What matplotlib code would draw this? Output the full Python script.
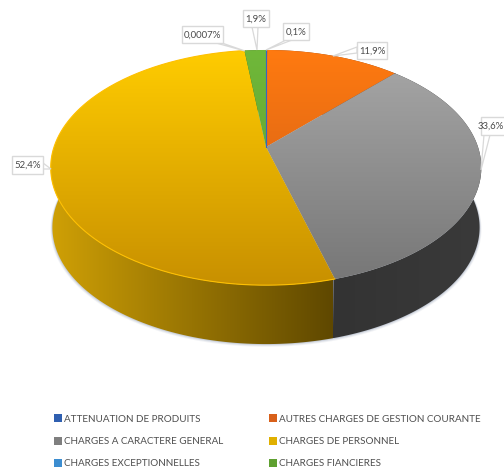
import numpy as np
import matplotlib
matplotlib.use('Agg')
import matplotlib.pyplot as plt
from matplotlib.patches import Polygon, Rectangle
from matplotlib.colors import LinearSegmentedColormap

plt.rcParams['font.family'] = ['Lato', 'DejaVu Sans']

categories = ['ATTENUATION DE PRODUITS', 'AUTRES CHARGES DE GESTION COURANTE',
              'CHARGES A CARACTERE GENERAL', 'CHARGES DE PERSONNEL',
              'CHARGES EXCEPTIONNELLES', 'CHARGES FIANCIERES']
values = [0.1, 11.9, 33.6, 52.4, 0.0007, 1.9]
labels = ['0,1%', '11,9%', '33,6%', '52,4%', '0,0007%', '1,9%']

top_colors = [('#3566c0', '#2a52a0'), ('#ff7a10', '#c85a18'), ('#a8a8a8', '#767676'),
              ('#ffcc00', '#c89000'), ('#3c8dd0', '#2f70a8'), ('#70b83a', '#5a9a2c')]
side_colors = [('#203a70', '#203a70'), ('#8a4010', '#8a4010'), ('#333333', '#3a3a3a'),
               ('#cfa006', '#5f4800'), ('#205080', '#205080'), ('#3f6a20', '#3f6a20')]
legend_colors = ['#2f5fb0', '#d8601a', '#7f7f7f', '#e0b000', '#3c8dd0', '#5fa030']

# label box (x0, y0, x1, y1) and where the leader touches the pie, in pixels
boxes = [(283, 23, 309, 40), (357, 42, 387, 59), (481, 117, 520, 135),
         (12, 156, 43, 174), (182, 26, 223, 43), (243, 10, 269, 27)]
tips = [(266, 50), (333, 56), (481, 170), (51, 169), (245, 51), (257, 50)]
roots = [((286, 40), (292, 40)), ((357, 47), (357, 53)), ((484, 135), (490, 135)),
         ((43, 163), (43, 169)), ((216, 43), (222, 43)), ((252, 27), (258, 27))]

CX, CY, A, B, K = 266, 147, 212, 114, 0.175
DEPTH = 60


def project(theta, drop=0, scale=1.0):
    # theta runs clockwise from the top, perspective makes the back smaller
    X, Y = np.sin(theta), np.cos(theta)
    d = 1 + K * Y
    return np.column_stack([CX + scale * A * X / d, CY + drop - scale * B * Y / d])


def gradient(ax, pts, c1, c2, horizontal, extent, z):
    cmap = LinearSegmentedColormap.from_list('g', [c1, c2])
    grad = np.linspace(0, 1, 256)
    grad = grad.reshape(1, -1) if horizontal else grad.reshape(-1, 1)
    im = ax.imshow(grad, cmap=cmap, extent=extent, aspect='auto', origin='upper', zorder=z)
    clip = Polygon(pts, closed=True, transform=ax.transData, fc='none', ec='none')
    ax.add_patch(clip)
    im.set_clip_path(clip)


fig = plt.figure(figsize=(5.04, 4.70), dpi=100)
ax = fig.add_axes([0, 0, 1, 1])

total = sum(values)
edges = 2 * np.pi * np.concatenate([[0], np.cumsum(values)]) / total

# soft shadow under the drum
full = np.linspace(0, 2 * np.pi, 400)
for grow, alpha in [(3, 0.10), (2, 0.15), (1, 0.25)]:
    ax.add_patch(Polygon(project(full, DEPTH + grow * 0.5, 0.992 + grow * 0.003), closed=True,
                         fc='#8090a8', ec='none', alpha=alpha, zorder=1))

# sides first, the top faces cover what is at the back
for i in range(len(values)):
    # small overlap so no white seam shows between two sides
    t = np.linspace(edges[i] - 0.006, edges[i + 1] + 0.006, 150)
    upper = project(t)
    lower = project(t, DEPTH, 0.992)
    pts = np.vstack([upper, lower[::-1]])
    if i == 3:
        ext = (51, 333, 350, 150)
    else:
        ext = (pts[:, 0].min(), pts[:, 0].max() + 1, pts[:, 1].max(), pts[:, 1].min())
    gradient(ax, pts, side_colors[i][0], side_colors[i][1], True, ext, 2)

for i in range(len(values)):
    t = np.linspace(edges[i], edges[i + 1], 150)
    arc = project(t)
    pts = np.vstack([[CX, CY], arc])
    gradient(ax, pts, top_colors[i][0], top_colors[i][1], False, (40, 490, 285, 50), 3)

# bright rim and the hairline of the smallest slices
rim = project(np.linspace(edges[3], edges[4], 200))
ax.plot(rim[:, 0], rim[:, 1], color='#ffc000', lw=0.8, zorder=4)
ax.plot([CX, CX], [50, 147], color='#3566c0', lw=0.8, zorder=4)

# data labels with their callouts
for i in range(len(labels)):
    x0, y0, x1, y1 = boxes[i]
    ax.add_patch(Polygon([tips[i], roots[i][0], roots[i][1]], closed=True,
                         fc='white', ec='#d9d9d9', lw=0.9, zorder=5))
    ax.add_patch(Rectangle((x0, y0), x1 - x0, y1 - y0, fc='white', ec='#d9d9d9', lw=1.0, zorder=6))
    # the box of 33,6% runs off the picture, keep its text inside
    tx = 503.5 if i == 2 else (x0 + x1) / 2
    ax.text(tx, (y0 + y1) / 2 + 0.5, labels[i], fontsize=6.9, color='#4a4a4a', zorder=7,
            ha='right' if i == 2 else 'center', va='center')

# legend, two columns
legend_x = [54, 269]
legend_y = [418, 441, 463]
for i in range(len(categories)):
    x = legend_x[i % 2]
    y = legend_y[i // 2]
    ax.add_patch(Rectangle((x, y - 4), 8, 8, fc=legend_colors[i], ec='none', zorder=5))
    ax.text(x + 10, y + 1, categories[i], fontsize=7.15, color='#4f4f4f', ha='left', va='center')

ax.set_xlim(0, 504)
ax.set_ylim(470, 0)
ax.axis('off')
fig.savefig('out.png', dpi=100)
